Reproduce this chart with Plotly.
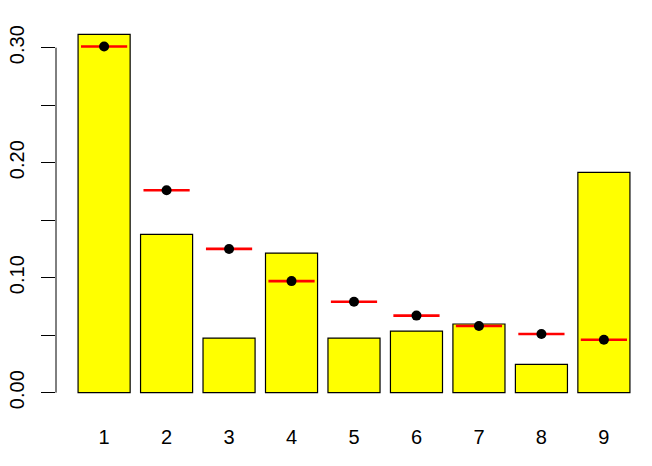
import plotly.graph_objects as go

digits = [1, 2, 3, 4, 5, 6, 7, 8, 9]
observed = [0.3116, 0.1377, 0.0475, 0.1214, 0.0475, 0.0536, 0.0597, 0.0246, 0.1916]
benford = [0.301, 0.176, 0.125, 0.097, 0.079, 0.067, 0.058, 0.051, 0.046]
y_tickvals = [0.0, 0.05, 0.10, 0.15, 0.20, 0.25, 0.30]
y_ticktext = ["0.00", "", "0.10", "", "0.20", "", "0.30"]

FONT = "Liberation Sans, Arial, sans-serif"

fig = go.Figure()
fig.add_trace(go.Bar(
    x=digits, y=observed, width=1 / 1.2,
    marker=dict(color="#FFFF00", line=dict(color="black", width=1.2)),
    showlegend=False, hoverinfo="skip",
))
fig.add_trace(go.Scatter(
    x=digits, y=benford, mode="markers",
    marker=dict(symbol="line-ew", size=33, line=dict(color="red", width=2.6)),
    showlegend=False,
))
fig.add_trace(go.Scatter(
    x=digits, y=benford, mode="markers",
    marker=dict(symbol="circle", size=10, color="black"),
    showlegend=False,
))

top = max(max(observed), max(benford))
ext = 0.04 * top
fig.add_shape(type="line", xref="paper", yref="y", x0=0, x1=0,
              y0=y_tickvals[0], y1=y_tickvals[-1],
              line=dict(color="black", width=1))

fig.update_layout(
    width=652, height=466,
    margin=dict(l=56, r=0, t=20, b=59, autoexpand=False),
    paper_bgcolor="white", plot_bgcolor="white",
    font=dict(family=FONT, size=20, color="black"),
    bargap=0,
    xaxis=dict(
        range=[1 - 0.5 / 1.2 - 0.04 * 8.8333, 9 + 0.5 / 1.2 + 0.04 * 8.8333],
        tickvals=digits, ticktext=[str(d) for d in digits],
        showgrid=False, zeroline=False, showline=False, ticks="",
        ticklabelstandoff=16, automargin=False,
    ),
    yaxis=dict(
        range=[-ext, top + ext],
        tickvals=y_tickvals, ticktext=y_ticktext,
        tickangle=-90, ticks="outside", ticklen=14, tickwidth=1, tickcolor="black",
        showgrid=False, zeroline=False, showline=False,
        ticklabelstandoff=9, automargin=False,
    ),
)

# remove the page's default body margin so the figure sits at the window's corner
fig.write_html(
    "out.html",
    config={"displayModeBar": False, "staticPlot": True},
    post_script="document.body.style.margin='0';document.body.style.overflow='hidden';",
)
